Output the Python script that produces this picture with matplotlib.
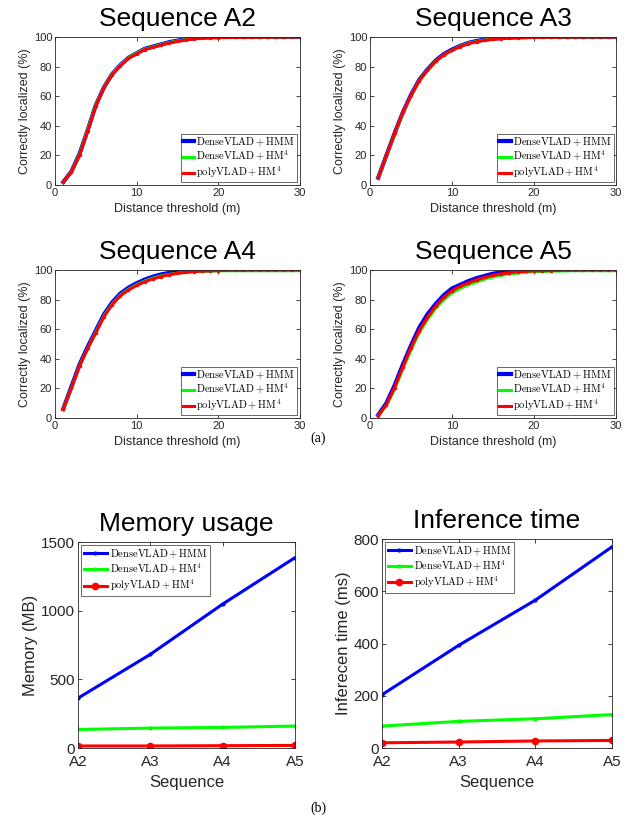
import matplotlib
matplotlib.use('Agg')
import matplotlib.pyplot as plt
import numpy as np

# distance thresholds (m)
thr = np.arange(1, 31)

a2_hmm = [2, 9, 21, 37, 54, 66, 75, 81, 86, 89, 92, 93.5, 95, 96.5, 97.5, 98.5, 99.2, 99.6, 99.8, 100,
          100, 100, 100, 100, 100, 100, 100, 100, 100, 100]
a2_hm4 = [2, 9, 20.5, 37, 54, 66, 75, 81, 86, 89, 91.8, 93.3, 94.8, 96.3, 97.3, 98.3, 99, 99.4, 99.7, 99.9,
          100, 100, 100, 100, 100, 100, 100, 100, 100, 100]
a2_poly = [2, 9, 20, 36.5, 53.5, 66, 74.5, 80.5, 85.5, 88.5, 91.5, 93, 94.5, 96, 97, 98, 98.7, 99.1, 99.4, 99.6,
           99.7, 99.8, 99.8, 99.9, 99.9, 99.9, 100, 100, 100, 100]

a3_hmm = [5, 20, 35, 49, 61, 71, 78, 84, 88.5, 91.5, 94, 96, 97.3, 98.2, 98.9, 99.3, 99.6, 99.8, 99.9, 100,
          100, 100, 100, 100, 100, 100, 100, 100, 100, 100]
a3_hm4 = [5, 19.5, 34.5, 48.5, 60.5, 70.5, 77.5, 83.5, 88, 91, 93.7, 95.8, 97, 98, 98.7, 99.1, 99.4, 99.6, 99.8, 99.9,
          100, 100, 100, 100, 100, 100, 100, 100, 100, 100]
a3_poly = [5, 20, 35, 49, 60.5, 70.5, 77.5, 83.5, 88, 91, 93.5, 95.5, 96.8, 97.8, 98.4, 98.9, 99.2, 99.5, 99.7, 99.8,
           99.9, 99.9, 99.9, 100, 100, 100, 100, 100, 100, 100]

a4_hmm = [6, 21, 36, 48, 59, 70, 78, 84, 88, 91, 93.5, 95.5, 97, 98, 98.8, 99.3, 99.6, 99.8, 99.9, 100,
          100, 100, 100, 100, 100, 100, 100, 100, 100, 100]
a4_hm4 = [6, 20, 35, 47, 58, 69, 77, 83, 87, 90, 92.5, 94.5, 96, 97, 97.8, 98.4, 98.8, 99.1, 99.3, 99.4,
          99.5, 99.5, 99.5, 99.5, 99.5, 99.5, 99.5, 99.5, 99.5, 99.5]
a4_poly = [6, 20, 35, 47, 57.5, 68.5, 76.5, 82.5, 86.5, 89.5, 92, 94, 95.5, 96.8, 97.7, 98.4, 98.9, 99.2, 99.4, 99.6,
           99.7, 99.8, 99.8, 99.9, 99.9, 99.9, 99.9, 100, 100, 100]

a5_hmm = [2, 10, 22, 36, 49, 61, 70, 77, 83, 87.5, 90, 92.5, 94.5, 96, 97.5, 98.3, 99, 99.4, 99.6, 99.8,
          99.9, 100, 100, 100, 100, 100, 100, 100, 100, 100]
a5_hm4 = [1.5, 8.5, 19.5, 33, 46, 57.5, 66.5, 74, 80, 84.5, 87.5, 90, 92, 93.8, 95.3, 96.4, 97.3, 97.9, 98.4, 98.8,
          99, 99.2, 99.3, 99.4, 99.5, 99.5, 99.5, 99.5, 99.5, 99.5]
a5_poly = [1.5, 9, 20.5, 34.5, 47.5, 59, 68, 75.5, 81.5, 86, 89, 91.3, 93.3, 95, 96.4, 97.4, 98.2, 98.8, 99.1, 99.4,
           99.5, 99.6, 99.7, 99.8, 99.8, 99.9, 99.9, 99.9, 100, 100]

curves = {
    'A2': (a2_hmm, a2_hm4, a2_poly),
    'A3': (a3_hmm, a3_hm4, a3_poly),
    'A4': (a4_hmm, a4_hm4, a4_poly),
    'A5': (a5_hmm, a5_hm4, a5_poly),
}

seqs = ['A2', 'A3', 'A4', 'A5']
mem_hmm = [363, 682, 1048, 1386]
mem_hm4 = [135, 145, 150, 160]
mem_poly = [15, 15, 17, 19]
time_hmm = [204, 393, 566, 770]
time_hm4 = [84, 102, 112, 128]
time_poly = [20, 23, 27, 29]

labels = [r'$\mathrm{DenseVLAD+HMM}$', r'$\mathrm{DenseVLAD+HM^4}$', r'$\mathrm{polyVLAD+HM^4}$']
BLUE, GREEN, RED = '#0000ff', '#00ff00', '#ff0000'
GRAY = '#262626'

plt.rcParams['font.family'] = ['Liberation Sans', 'DejaVu Sans']
plt.rcParams['mathtext.fontset'] = 'cm'
plt.rcParams['axes.edgecolor'] = GRAY
plt.rcParams['xtick.color'] = GRAY
plt.rcParams['ytick.color'] = GRAY
plt.rcParams['axes.linewidth'] = 0.6


def style(ax, fs, xpad=2):
    ax.tick_params(direction='in', top=True, right=True, length=3, width=0.6,
                   labelsize=fs, pad=2)
    ax.tick_params(axis='x', pad=xpad)


fig = plt.figure(figsize=(6.36, 8.27), dpi=100)

pos = {
    'A2': [0.0865, 0.7763, 0.385, 0.179],
    'A3': [0.5818, 0.7763, 0.387, 0.179],
    'A4': [0.0865, 0.4946, 0.385, 0.179],
    'A5': [0.5818, 0.4946, 0.387, 0.179],
}

for name, (hmm, hm4, poly) in curves.items():
    ax = fig.add_axes(pos[name])
    ax.plot(thr, hmm, color=BLUE, lw=3, label=labels[0])
    ax.plot(thr, hm4, color=GREEN, lw=2.2, label=labels[1])
    ax.plot(thr, poly, color=RED, lw=2.2, marker='.', ms=3, label=labels[2])
    ax.set_xlim(0, 30)
    ax.set_ylim(0, 100)
    ax.set_xticks([0, 10, 20, 30])
    ax.set_yticks([0, 20, 40, 60, 80, 100])
    style(ax, 8)
    ax.set_title('Sequence ' + name, fontsize=19, pad=8)
    ax.set_xlabel('Distance threshold (m)', fontsize=9, color=GRAY, labelpad=4)
    ax.set_ylabel('Correctly localized (%)', fontsize=9, color=GRAY, labelpad=2)
    leg = ax.legend(loc='lower right', fontsize=7.6, handlelength=1.1, handletextpad=0.2,
                    borderpad=0.2, labelspacing=0.1, borderaxespad=0.25,
                    fancybox=False, edgecolor=GRAY)
    leg.get_frame().set_linewidth(0.6)

xs = np.arange(len(seqs))
panels = [
    ([0.1226, 0.0955, 0.341, 0.249], mem_hmm, mem_hm4, mem_poly, 'Memory usage', 'Memory (MB)',
     1500, [0, 500, 1000, 1500]),
    ([0.6006, 0.0955, 0.3616, 0.2527], time_hmm, time_hm4, time_poly, 'Inference time',
     'Inferecen time (ms)', 800, [0, 200, 400, 600, 800]),
]
for rect, hmm, hm4, poly, title, ylab, ymax, yt in panels:
    ax = fig.add_axes(rect)
    ax.plot(xs, hmm, color=BLUE, lw=2.2, marker='.', ms=4, label=labels[0])
    ax.plot(xs, hm4, color=GREEN, lw=2.2, marker='.', ms=4, label=labels[1])
    ax.plot(xs, poly, color=RED, lw=2.2, marker='o', ms=4.5, label=labels[2])
    ax.set_xlim(0, 3)
    ax.set_ylim(0, ymax)
    ax.set_xticks(xs)
    ax.set_xticklabels(seqs)
    ax.set_yticks(yt)
    style(ax, 11, xpad=5)
    ax.set_title(title, fontsize=19, pad=8)
    ax.set_xlabel('Sequence', fontsize=12, color=GRAY, labelpad=4)
    ax.set_ylabel(ylab, fontsize=12, color=GRAY, labelpad=2)
    leg = ax.legend(loc='upper left', fontsize=7.5, handlelength=2.2, handletextpad=0.3,
                    borderpad=0.25, labelspacing=0.15, borderaxespad=0.3,
                    fancybox=False, edgecolor=GRAY)
    leg.get_frame().set_linewidth(0.6)

fig.text(0.5, 1 - 438 / 827, '(a)', ha='center', va='center', fontsize=10, family='Liberation Serif')
fig.text(0.5, 1 - 808 / 827, '(b)', ha='center', va='center', fontsize=10, family='Liberation Serif')

fig.savefig('out.png', dpi=100)
